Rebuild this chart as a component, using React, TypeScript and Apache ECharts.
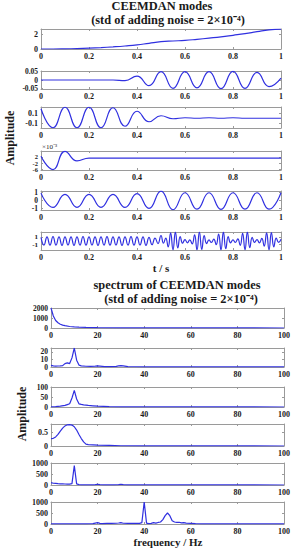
import React, { useEffect, useRef } from "react";
import * as echarts from "echarts";

// ---- CEEMDAN modes (time domain), sampled at fixed steps ----
const MODE_T_STEP = 0.05;
const MODE1 = [0, 0, 0.02, 0.06, 0.12, 0.2, 0.3, 0.42, 0.57, 0.8, 1.02, 1.12, 1.2, 1.35, 1.52, 1.7, 1.92, 2.15, 2.42, 2.68, 2.78];
const MODE2 = [0, 0, 0, 0, 0, 0, 0, -0.004, 0.022, -0.033, 0.048, -0.048, 0.048, -0.046, 0.048, -0.05, 0.05, -0.048, 0.044, -0.038, 0.011];
const MODE3 = [0.19, -0.19, 0.22, -0.19, 0.22, -0.19, 0.21, -0.16, 0.14, -0.07, 0.05, -0.01, 0.01, 0, 0.01, 0, 0.01, 0, 0, 0, 0];
const MODE4_E3 = [2.5, -6, 5.6, -0.5, 1.3, 1.2, 1.2, 1.2, 1.2, 1.2, 1.2, 1.2, 1.2, 1.2, 1.2, 1.2, 1.2, 1.2, 1.2, 1.2, 1.2];
const MODE5 = [0.95, -0.85, 0.8, -0.85, 0.8, -0.85, 0.8, -0.85, 0.88, -0.98, 1.2, -1.15, 1.0, -1.08, 1.0, -1.1, 1.0, -1.08, 1.0, -1.08, 1.0];
const MODE6_A_STEP = 0.0125; // 0 .. 0.4875
const MODE6_A = [1.0, -1.1, 1.1, -1.1, 1.2, -1.1, 1.1, -1.2, 1.1, -1.1, 1.1, -1.2, 1.1, -1.1, 1.2, -1.1, 1.1, -1.1, 1.1, -1.2,
  1.1, -1.1, 1.2, -1.1, 1.1, -1.1, 1.1, -1.2, 1.1, -1.1, 1.2, -1.1, 1.1, -1.1, 1.1, -1.2, 1.0, -1.0, 0.8, -0.7];
const MODE6_B_START = 0.5;
const MODE6_B_STEP = 0.01; // 0.5 .. 1.0
const MODE6_B = [1.5, -0.6, 0.8, -1.6, 2.2, -2.4, 2.4, -1.9, 1.2, -0.6,
  0.4, -0.5, 0.3, -0.8, 1.7, -2.4, 2.4, -2.3, 1.5, -0.7,
  0.3, -0.4, 0.5, -1.0, 1.9, -2.4, 2.4, -2.1, 1.2, -0.5,
  0.3, -0.4, 0.6, -1.2, 2.1, -2.4, 2.4, -1.8, 1.0, -0.4,
  0.4, -0.5, 0.7, -1.4, 2.2, -2.4, 2.3, -1.6, 0.8, -0.4, 0.5];

// ---- spectra (frequency / Hz, amplitude) ----
const SPEC1_F = [0, 1, 2, 3, 4, 5, 6, 8, 10, 12, 15, 20, 30, 40, 60, 100];
const SPEC1_V = [2000, 1200, 750, 520, 380, 290, 230, 150, 105, 80, 55, 35, 18, 10, 5, 2];
const SPEC2_F = [0, 1, 2, 3, 4, 5, 6, 7, 8, 9, 10, 11, 12, 13, 15, 17, 19, 20, 21, 23, 26, 28, 29, 30, 31, 33, 36, 40, 60, 100];
const SPEC2_V = [2.2, 1.5, 1.2, 1.3, 1.5, 1.8, 4.5, 5.5, 4.5, 12, 25, 9, 2.5, 1.5, 1, 0.8, 1.2, 1.5, 1.2, 0.6, 0.5, 0.8, 1.5, 1.8, 1.5, 0.5, 0.3, 0.2, 0.1, 0.05];
const SPEC3_F = [0, 2, 4, 6, 7, 8, 9, 10, 11, 12, 13, 14, 16, 18, 20, 25, 30, 40, 60, 100];
const SPEC3_V = [1, 2, 4, 8, 12, 16, 45, 83, 40, 16, 13, 11, 8, 6, 4, 2, 1, 0.5, 0.2, 0.1];
const SPEC4_F = [0, 1, 2, 3, 4, 5, 6, 7, 8, 9, 10, 11, 12, 13, 14, 15, 16, 18, 20, 25, 30, 40, 100];
const SPEC4_V = [0.27, 0.28, 0.33, 0.42, 0.54, 0.65, 0.73, 0.77, 0.78, 0.76, 0.7, 0.58, 0.42, 0.27, 0.15, 0.07, 0.05, 0.04, 0.03, 0.02, 0.01, 0.005, 0];
const SPEC5_F = [0, 1, 2, 3, 4, 5, 6, 7, 8, 9, 10, 11, 12, 13, 15, 18, 19, 20, 21, 23, 27, 29, 30, 31, 33, 40, 60, 100];
const SPEC5_V = [110, 80, 70, 60, 55, 50, 45, 40, 40, 60, 880, 50, 20, 10, 8, 10, 20, 35, 15, 8, 8, 20, 35, 15, 5, 3, 2, 1];
const SPEC6_F = [0, 5, 10, 15, 18, 19, 20, 21, 22, 24, 26, 28, 29, 30, 31, 33, 35, 37, 38, 39, 40, 41, 42, 43, 44, 45, 46, 47, 48, 49, 50, 51, 52, 53, 54, 55, 56, 57, 58, 60, 62, 65, 70, 80, 100];
const SPEC6_V = [5, 5, 5, 10, 20, 40, 60, 30, 20, 30, 25, 35, 45, 60, 35, 25, 30, 25, 30, 60, 1000, 40, 20, 30, 60, 40, 70, 90, 200, 380, 500, 380, 150, 90, 70, 80, 50, 60, 40, 30, 20, 10, 8, 5, 3];

// ---- tick labels ----
const T_TICKS = [0, 0.2, 0.4, 0.6, 0.8, 1];
const F_TICKS = [0, 20, 40, 60, 80, 100];
const MODE_Y_TICKS = [[0, 2], [-0.05, 0, 0.05], [-0.1, 0.1], [-6, -2, 2], [-1, 0, 1], [-1, 1]];
const SPEC_Y_TICKS = [[0, 1000, 2000], [0, 10, 20], [0, 50, 100], [0, 0.5], [0, 500, 1000], [0, 500, 1000]];

const TITLE_TOP_1 = "CEEMDAN modes";
const TITLE_BOTTOM_1 = "spectrum of CEEMDAN modes";
const TITLE_2 = "(std of adding noise = 2×10⁻⁴)";
const MODE4_EXP = "×10⁻³";

const LINE_COLOR = "#3030e0";
const BOX_COLOR = "#9a9a9a";
const TEXT_COLOR = "#1a1a1a";
const SERIF = '"Liberation Serif", "Times New Roman", serif';

const stepPairs = (vals: number[], t0: number, step: number) =>
  vals.map((v, i) => [+(t0 + i * step).toFixed(5), v]);
const zipPairs = (xs: number[], ys: number[]) => xs.map((x, i) => [x, ys[i]]);

const MODE_SERIES = [
  stepPairs(MODE1, 0, MODE_T_STEP),
  stepPairs(MODE2, 0, MODE_T_STEP),
  stepPairs(MODE3, 0, MODE_T_STEP),
  stepPairs(MODE4_E3, 0, MODE_T_STEP),
  stepPairs(MODE5, 0, MODE_T_STEP),
  [...stepPairs(MODE6_A, 0, MODE6_A_STEP), ...stepPairs(MODE6_B, MODE6_B_START, MODE6_B_STEP)],
];
const SPEC_SERIES = [
  zipPairs(SPEC1_F, SPEC1_V),
  zipPairs(SPEC2_F, SPEC2_V),
  zipPairs(SPEC3_F, SPEC3_V),
  zipPairs(SPEC4_F, SPEC4_V),
  zipPairs(SPEC5_F, SPEC5_V),
  zipPairs(SPEC6_F, SPEC6_V),
];

// layout (pixels)
const MODE_LAYOUT = [
  { top: 29, height: 20, yMin: 0, yMax: 2.8, ls: 8 },
  { top: 71, height: 18, yMin: -0.052, yMax: 0.052, ls: 7.5 },
  { top: 107, height: 21, yMin: -0.195, yMax: 0.225, ls: 8 },
  { top: 151, height: 19, yMin: -6.3, yMax: 5.8, ls: 6.5 },
  { top: 191, height: 19, yMin: -1.18, yMax: 1.22, ls: 7.5 },
  { top: 232, height: 18, yMin: -2.45, yMax: 2.45, ls: 7 },
];
const SPEC_LAYOUT = [
  { top: 308, height: 20, yMin: 0, yMax: 2000, ls: 7.5 },
  { top: 348, height: 19, yMin: 0, yMax: 25, ls: 7.5 },
  { top: 387, height: 20, yMin: 0, yMax: 100, ls: 7.5 },
  { top: 424, height: 22, yMin: 0, yMax: 0.8, ls: 8 },
  { top: 463, height: 22, yMin: 0, yMax: 1000, ls: 8 },
  { top: 502, height: 22, yMin: 0, yMax: 1000, ls: 8 },
];

type LabelReq = { yAxisIndex: number; value: number; x: number; size: number; lay: any };

const boldFont = (s: number) => `bold ${s}px ${SERIF}`;
const fmt = (v: number) => String(+v.toFixed(4));
const txt = (id: string, text: string, x: number, y: number, size: number, bold = true, rotation = 0, align = "center") => ({
  id, type: "text", x, y, rotation, silent: true, z: 100,
  style: {
    text, fill: TEXT_COLOR, font: bold ? boldFont(size) : `${size}px ${SERIF}`,
    textAlign: align, textVerticalAlign: "middle", align, verticalAlign: "middle",
  },
});

function buildOption() {
  const grid: any[] = [];
  const xAxis: any[] = [];
  const yAxis: any[] = [];
  const series: any[] = [];
  const yLabels: LabelReq[] = [];
  const labelStyle = { fontWeight: "bold", fontFamily: SERIF, color: TEXT_COLOR, hideOverlap: false, showMinLabel: true, showMaxLabel: true };

  const addPanel = (
    data: number[][], lay: any, left: number, right: number,
    xMin: number, xMax: number, xTicks: number[], yTicks: number[], smooth: boolean
  ) => {
    const gi = grid.length;
    grid.push({ left, right, top: lay.top, height: lay.height, show: false, containLabel: false, outerBoundsMode: "none" });
    const line = { show: true, onZero: false, lineStyle: { color: BOX_COLOR, width: 1 } };
    const tick = (vals: number[]) => ({ show: true, inside: true, length: 2, customValues: vals, lineStyle: { color: BOX_COLOR } });
    const xi = xAxis.length;
    const yi = yAxis.length;
    xAxis.push({
      type: "value", gridIndex: gi, min: xMin, max: xMax, position: "bottom",
      axisLine: line, axisTick: tick(xTicks), splitLine: { show: false },
      axisLabel: { ...labelStyle, fontSize: 8, lineHeight: 6, customValues: xTicks, margin: 4, formatter: fmt },
    });
    xAxis.push({
      type: "value", gridIndex: gi, min: xMin, max: xMax, position: "top",
      axisLine: line, axisTick: tick(xTicks), splitLine: { show: false }, axisLabel: { show: false },
    });
    yAxis.push({
      type: "value", gridIndex: gi, min: lay.yMin, max: lay.yMax, position: "left",
      axisLine: line, axisTick: tick(yTicks), splitLine: { show: false }, axisLabel: { show: false },
    });
    yAxis.push({
      type: "value", gridIndex: gi, min: lay.yMin, max: lay.yMax, position: "right",
      axisLine: line, axisTick: tick(yTicks), splitLine: { show: false }, axisLabel: { show: false },
    });
    series.push({
      type: "line", xAxisIndex: xi, yAxisIndex: yi, data, showSymbol: false, symbol: "none",
      smooth: smooth ? 0.5 : false, clip: true, lineStyle: { color: LINE_COLOR, width: 1.2 },
    });
    yTicks.forEach((v) => yLabels.push({ yAxisIndex: yi, value: v, x: left - 3, size: lay.ls, lay }));
  };

  MODE_SERIES.forEach((d, i) => addPanel(d, MODE_LAYOUT[i], 41, 15, 0, 1, T_TICKS, MODE_Y_TICKS[i], true));
  SPEC_SERIES.forEach((d, i) => addPanel(d, SPEC_LAYOUT[i], 51, 12, 0, 100, F_TICKS, SPEC_Y_TICKS[i], false));

  const graphic = [
    txt("t1", TITLE_TOP_1, 162, 6.3, 12.4),
    txt("t2", TITLE_2, 168, 20, 12.4),
    txt("t3", TITLE_BOTTOM_1, 177, 285.3, 12.4),
    txt("t4", TITLE_2, 181, 299, 12.4),
    txt("a1", "Amplitude", 10, 138, 12, true, Math.PI / 2),
    txt("a2", "Amplitude", 22, 414, 12, true, Math.PI / 2),
    txt("x1", "t / s", 161, 268, 11),
    txt("x2", "frequency / Hz", 168, 542, 11),
    txt("e3", MODE4_EXP, 42, 146.5, 7, false, 0, "left"),
  ];

  return { option: { animation: false, backgroundColor: "#ffffff", grid, xAxis, yAxis, series, graphic }, yLabels };
}

export default function App() {
  const ref = useRef<HTMLDivElement>(null);
  useEffect(() => {
    if (!ref.current) return;
    const chart = echarts.init(ref.current, undefined, { renderer: "svg" });
    const { option, yLabels } = buildOption();
    chart.setOption(option as any);
    // y tick labels placed through each panel's own y-axis scale
    const labelEls = yLabels.map((l, i) => {
      let py = Number(chart.convertToPixel({ yAxisIndex: l.yAxisIndex } as any, l.value));
      if (!isFinite(py)) {
        const lay = l.lay;
        py = lay.top + (lay.height * (lay.yMax - l.value)) / (lay.yMax - lay.yMin);
      }
      return txt(`yl${i}`, fmt(l.value), l.x, py, l.size, true, 0, "right");
    });
    chart.setOption({ graphic: [...option.graphic, ...labelEls] } as any);
    return () => chart.dispose();
  }, []);
  return (
    <div
      ref={ref}
      style={{ position: "absolute", left: 0, top: 0, width: 296, height: 550, background: "#fff" }}
    />
  );
}
